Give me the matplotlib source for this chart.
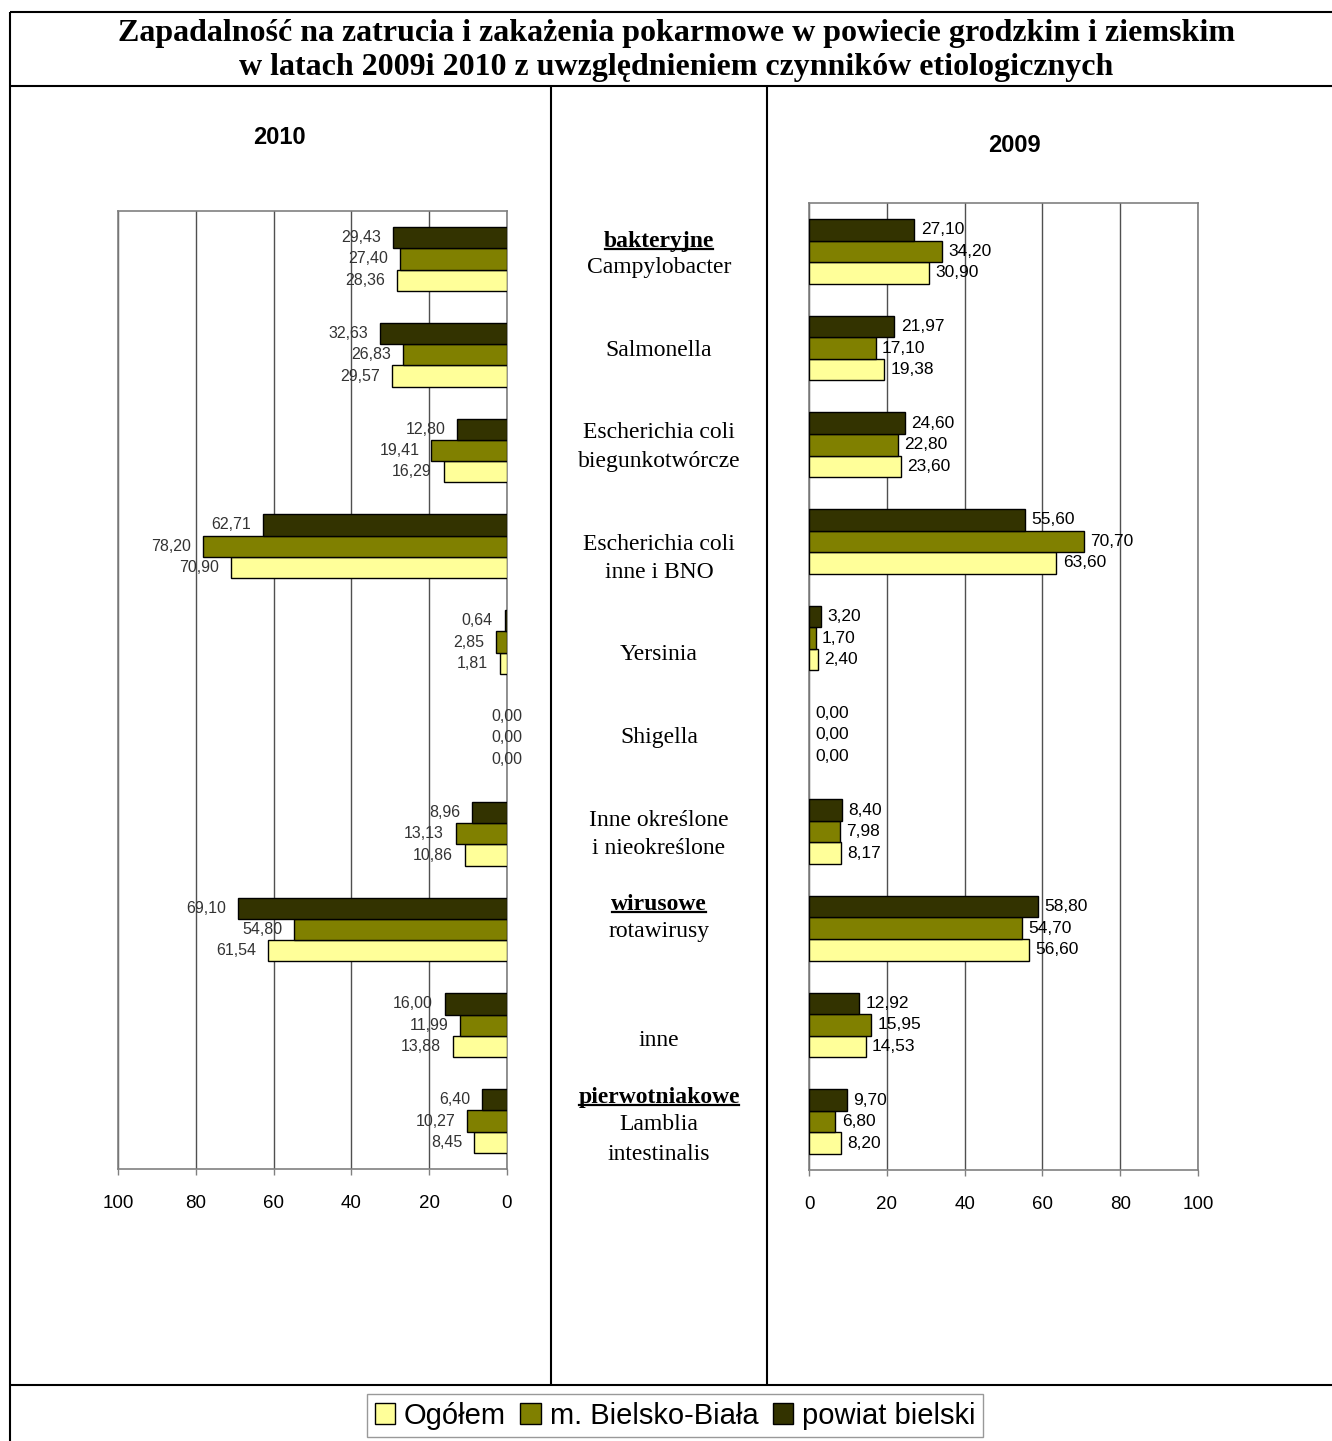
import matplotlib
matplotlib.use("Agg")
import matplotlib.pyplot as plt
from matplotlib.lines import Line2D
from matplotlib.patches import Patch
import numpy as np

# ---------------- data ----------------
series_names = ["Ogółem", "m. Bielsko-Biała", "powiat bielski"]
series_colors = ["#FFFF99", "#808000", "#333300"]

categories = ["Campylobacter", "Salmonella", "Escherichia coli biegunkotwórcze",
              "Escherichia coli inne i BNO", "Yersinia", "Shigella",
              "Inne określone i nieokreślone", "rotawirusy", "inne",
              "Lamblia intestinalis"]

powiat_2010 = [29.43, 32.63, 12.80, 62.71, 0.64, 0.00, 8.96, 69.10, 16.00, 6.40]
bielsko_2010 = [27.40, 26.83, 19.41, 78.20, 2.85, 0.00, 13.13, 54.80, 11.99, 10.27]
ogolem_2010 = [28.36, 29.57, 16.29, 70.90, 1.81, 0.00, 10.86, 61.54, 13.88, 8.45]

powiat_2009 = [27.10, 21.97, 24.60, 55.60, 3.20, 0.00, 8.40, 58.80, 12.92, 9.70]
bielsko_2009 = [34.20, 17.10, 22.80, 70.70, 1.70, 0.00, 7.98, 54.70, 15.95, 6.80]
ogolem_2009 = [30.90, 19.38, 23.60, 63.60, 2.40, 0.00, 8.17, 56.60, 14.53, 8.20]

x_ticks = [0, 20, 40, 60, 80, 100]

title_lines = ["Zapadalność na zatrucia i zakażenia pokarmowe w powiecie grodzkim i ziemskim",
               "w latach 2009i 2010 z uwzględnieniem czynników etiologicznych"]

# middle labels: (text, underlined-bold?)
middle_labels = [
    [("bakteryjne", True), ("Campylobacter", False)],
    [("Salmonella", False)],
    [("Escherichia coli", False), ("biegunkotwórcze", False)],
    [("Escherichia coli", False), ("inne i BNO", False)],
    [("Yersinia", False)],
    [("Shigella", False)],
    [("Inne określone", False), ("i nieokreślone", False)],
    [("wirusowe", True), ("rotawirusy", False)],
    [("inne", False)],
    [("pierwotniakowe", True), ("Lamblia", False), ("intestinalis", False)],
]
middle_y = [[241, 268], [350], [433, 461], [545, 572], [655], [738],
            [820, 848], [904, 931], [1041], [1097, 1124, 1154]]

SANS = "Liberation Sans"
SERIF = "Liberation Serif"

W, H = 1332, 1441
fig = plt.figure(figsize=(W / 100, H / 100), dpi=100)

# background axes in pixel coordinates for frame / texts
bg = fig.add_axes([0, 0, 1, 1], zorder=0)
bg.set_xlim(0, W)
bg.set_ylim(H, 0)
bg.axis("off")

lw_frame = 1.5
for (x0, y0, x1, y1) in [(10, 12, W, 12), (10, 86, W, 86), (10, 1385, W, 1385),
                         (10, 12, 10, H), (551, 86, 551, 1385), (767, 86, 767, 1385)]:
    bg.add_line(Line2D([x0, x1], [y0, y1], color="black", lw=lw_frame, solid_capstyle="butt"))

bg.text(676, 33, title_lines[0], ha="center", va="center", fontsize=23,
        fontweight="bold", family=SERIF)
bg.text(676, 68, title_lines[1], ha="center", va="center", fontsize=23,
        fontweight="bold", family=SERIF)

bg.text(279, 138, "2010", ha="center", va="center", fontsize=17, fontweight="bold", family=SANS)
bg.text(1014, 145, "2009", ha="center", va="center", fontsize=17, fontweight="bold", family=SANS)

underline_texts = []
for lines, ys in zip(middle_labels, middle_y):
    for (txt, ul), yy in zip(lines, ys):
        t = bg.text(659, yy, txt, ha="center", va="center", fontsize=17,
                    family=SERIF, fontweight="bold" if ul else "normal")
        if ul:
            underline_texts.append(t)


def fmt(v):
    return f"{v:.2f}".replace(".", ",")


def draw_panel(rect, series, left_side):
    ax = fig.add_axes(rect, zorder=1)
    n = len(categories)
    y = np.arange(n)
    h = 0.2225
    offsets = [h, 0.0, -h]  # Ogółem bottom, Bielsko middle, powiat top
    for vals, col, off in zip(series, series_colors, offsets):
        lws = [0 if v == 0 else 1.0 for v in vals]
        ax.barh(y + off, vals, height=h, color=col, edgecolor="black",
                linewidth=lws, zorder=3)
        for yi, v in zip(y, vals):
            if left_side:
                if v == 0:
                    ax.annotate(fmt(v), xy=(v, yi + off), xytext=(0, 0),
                                textcoords="offset points", ha="center", va="center",
                                fontsize=11.5, family=SANS, color="#333333", zorder=4)
                else:
                    ax.annotate(fmt(v), xy=(v, yi + off), xytext=(-8.5, 0),
                                textcoords="offset points", ha="right", va="center",
                                fontsize=11.5, family=SANS, color="#333333", zorder=4)
            else:
                ax.annotate(fmt(v), xy=(v, yi + off), xytext=(4.5, 0),
                            textcoords="offset points", ha="left", va="center",
                            fontsize=12.5, family=SANS, color="black", zorder=4)
    ax.set_ylim(n - 0.5, -0.5)
    if left_side:
        ax.set_xlim(100, 0)
    else:
        ax.set_xlim(0, 100)
    ax.set_xticks(x_ticks)
    ax.set_xticklabels([str(t) for t in x_ticks], fontsize=13.5, family=SANS)
    ax.set_yticks([])
    ax.tick_params(axis="x", direction="out", length=4.5, width=1, color="#808080", pad=14)
    ax.grid(axis="x", color="#505050", lw=1, zorder=0)
    ax.set_axisbelow(True)
    for s in ax.spines.values():
        s.set_color("#808080")
        s.set_linewidth(1.2)
    ax.patch.set_alpha(0)
    return ax


draw_panel([118 / W, 1 - 1169 / H, (507 - 118) / W, (1169 - 211) / H],
           [ogolem_2010, bielsko_2010, powiat_2010], True)
draw_panel([809 / W, 1 - 1170 / H, (1198 - 809) / W, (1170 - 203) / H],
           [ogolem_2009, bielsko_2009, powiat_2009], False)

handles = [Patch(facecolor=c, edgecolor="black", linewidth=1) for c in series_colors]
leg = fig.legend(handles, series_names, loc="center",
                 bbox_to_anchor=(675 / W, 1 - 1415.5 / H), ncol=3,
                 prop={"family": SANS, "size": 21}, frameon=True, fancybox=False,
                 edgecolor="#808080", handlelength=0.7, handleheight=0.7,
                 handletextpad=0.3, columnspacing=0.5, borderpad=0.25,
                 borderaxespad=0)
leg.get_frame().set_linewidth(1)

# underlines for bold group headers
fig.canvas.draw()
renderer = fig.canvas.get_renderer()
for t in underline_texts:
    bb = t.get_window_extent(renderer)
    yy = H - (bb.y0 + 3)
    bg.add_line(Line2D([bb.x0 + 1, bb.x1 - 1], [yy, yy], color="black", lw=1.6))

fig.savefig("out.png", dpi=100)
